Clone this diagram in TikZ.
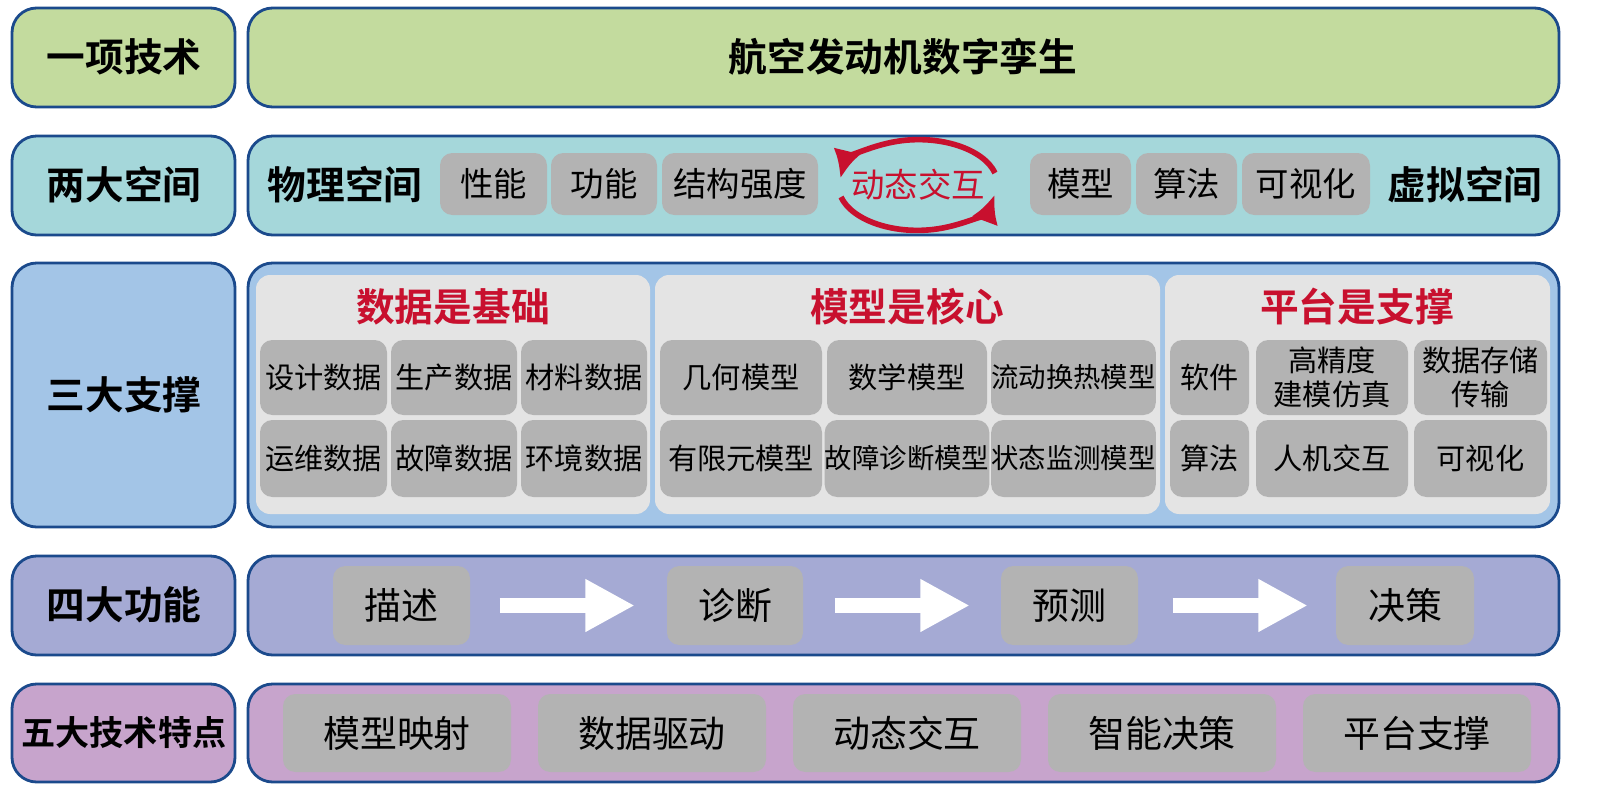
\documentclass[tikz,border=0pt]{standalone}
\usepackage{fontspec}
\setmainfont{Noto Sans CJK SC}
\newfontfamily\cjkbold{Noto Sans CJK SC Bold}
\usetikzlibrary{arrows.meta}
\definecolor{rowgreen}{HTML}{C3DB9E}
\definecolor{rowteal}{HTML}{A5D7DA}
\definecolor{rowblue}{HTML}{A3C5E7}
\definecolor{rowpurple}{HTML}{A5AAD4}
\definecolor{rowpink}{HTML}{C7A4CC}
\definecolor{edgeblue}{HTML}{1B4A8C}
\definecolor{cellgray}{HTML}{B3B3B3}
\definecolor{panelgray}{HTML}{E4E4E4}
\definecolor{titlered}{HTML}{C8102E}
\tikzset{
  rowbox/.style={draw=edgeblue, line width=0.8pt, rounded corners=7pt},
  rowlabel/.style={font=\cjkbold\fontsize{11}{13}\selectfont},
  cell/.style={fill=cellgray, rounded corners=3.5pt, inner sep=0pt, align=center,
    font=\fontsize{9.5}{11}\selectfont},
  small/.style={font=\fontsize{8.3}{9.5}\selectfont},
  smaller/.style={font=\fontsize{7.8}{9}\selectfont},
  large/.style={font=\fontsize{10.5}{12}\selectfont},
  panel/.style={fill=panelgray, rounded corners=4pt},
  paneltitle/.style={text=titlered, font=\cjkbold\fontsize{11}{13}\selectfont},
  flowarrow/.style={white, line width=4.5pt, -{Triangle[length=14pt, width=14pt]}},
}
\newcommand{\cellat}[7][]{% options, name, x1, y1, x2, y2, text
  \node[cell, #1, minimum width={(#5-#3)*0.01cm}, minimum height={(#6-#4)*0.01cm}]
    (#2) at ({(#3+#5)/2},{(#4+#6)/2}) {#7};}
\begin{document}
\begin{tikzpicture}[x=0.01cm, y=-0.01cm]
\useasboundingbox (0,0) rectangle (1599,809);

% row frames
\foreach \name/\col/\ya/\yb in {one/rowgreen/8/107, two/rowteal/136/235,
    three/rowblue/263/527, four/rowpurple/556/655, five/rowpink/684/782} {
  \draw[rowbox, fill=\col] (12,\ya) rectangle (235,\yb);
  \draw[rowbox, fill=\col] (248,\ya) rectangle (1559,\yb);
}
\node[rowlabel] (l1) at (124,57) {一项技术};
\node[rowlabel] (l2) at (124,185) {两大空间};
\node[rowlabel] (l3) at (124,395) {三大支撑};
\node[rowlabel] (l4) at (124,605) {四大功能};
\node[rowlabel, font=\cjkbold\fontsize{9.7}{11}\selectfont] (l5) at (124,733) {五大技术特点};

% row 1
\node[rowlabel] (twin) at (903,57) {航空发动机数字孪生};

% row 2
\node[rowlabel] (phys) at (345,185) {物理空间};
\node[rowlabel] (virt) at (1465,185) {虚拟空间};
\cellat{perf}{440}{153}{547}{215}{性能}
\cellat{func}{551}{153}{657}{215}{功能}
\cellat{strength}{662}{153}{818}{215}{结构强度}
\cellat{model}{1030}{153}{1131}{215}{模型}
\cellat{algo}{1136}{153}{1237}{215}{算法}
\cellat{visual}{1242}{153}{1370}{215}{可视化}
\node[text=titlered, font=\fontsize{9.5}{11}\selectfont] (inter) at (918,185) {动态交互};
\draw[titlered, line width=1.6pt, -{Latex[length=8pt, width=8pt]}]
  (995,173) arc[start angle=15, end angle=172, x radius=0.79cm, y radius=0.45cm];
\draw[titlered, line width=1.6pt, -{Latex[length=8pt, width=8pt]}]
  (841,197) arc[start angle=195, end angle=348, x radius=0.79cm, y radius=0.45cm];

% row 3
\fill[panel] (256,275) rectangle (650,514);
\fill[panel] (655,275) rectangle (1160,514);
\fill[panel] (1165,275) rectangle (1550,514);
\node[paneltitle] (datat) at (453,307) {数据是基础};
\node[paneltitle] (modelt) at (907,307) {模型是核心};
\node[paneltitle] (platt) at (1357,307) {平台是支撑};
\cellat[small]{d1}{260}{340}{387}{415}{设计数据}
\cellat[small]{d2}{391}{340}{517}{415}{生产数据}
\cellat[small]{d3}{521}{340}{647}{415}{材料数据}
\cellat[small]{d4}{260}{420}{387}{497}{运维数据}
\cellat[small]{d5}{391}{420}{517}{497}{故障数据}
\cellat[small]{d6}{521}{420}{647}{497}{环境数据}
\cellat[small]{m1}{660}{340}{822}{415}{几何模型}
\cellat[small]{m2}{827}{340}{987}{415}{数学模型}
\cellat[smaller]{m3}{992}{340}{1155}{415}{流动换热模型}
\cellat[small]{m4}{660}{420}{822}{497}{有限元模型}
\cellat[smaller]{m5}{827}{420}{987}{497}{故障诊断模型}
\cellat[smaller]{m6}{992}{420}{1155}{497}{状态监测模型}
\cellat[small]{p1}{1170}{340}{1249}{415}{软件}
\cellat[small]{p2}{1256}{340}{1408}{415}{高精度\\建模仿真}
\cellat[small]{p3}{1414}{340}{1547}{415}{数据存储\\传输}
\cellat[small]{p4}{1170}{420}{1249}{497}{算法}
\cellat[small]{p5}{1256}{420}{1408}{497}{人机交互}
\cellat[small]{p6}{1414}{420}{1547}{497}{可视化}

% row 4
\cellat[large]{describe}{333}{566}{470}{645}{描述}
\cellat[large]{diagnose}{667}{566}{803}{645}{诊断}
\cellat[large]{predict}{1001}{566}{1138}{645}{预测}
\cellat[large]{decide}{1336}{566}{1474}{645}{决策}
\draw[flowarrow] (describe.east) ++(29,0) -- ++(135,0);
\draw[flowarrow] (diagnose.east) ++(31,0) -- ++(135,0);
\draw[flowarrow] (predict.east) ++(34,0) -- ++(135,0);

% row 5
\foreach \i/\txt in {0/模型映射, 1/数据驱动, 2/动态交互, 3/智能决策, 4/平台支撑} {
  \pgfmathsetmacro\xa{283+255*\i}
  \pgfmathsetmacro\xb{511+255*\i}
  \cellat[large]{f\i}{\xa}{694}{\xb}{772}{\txt}
}
\end{tikzpicture}
\end{document}
